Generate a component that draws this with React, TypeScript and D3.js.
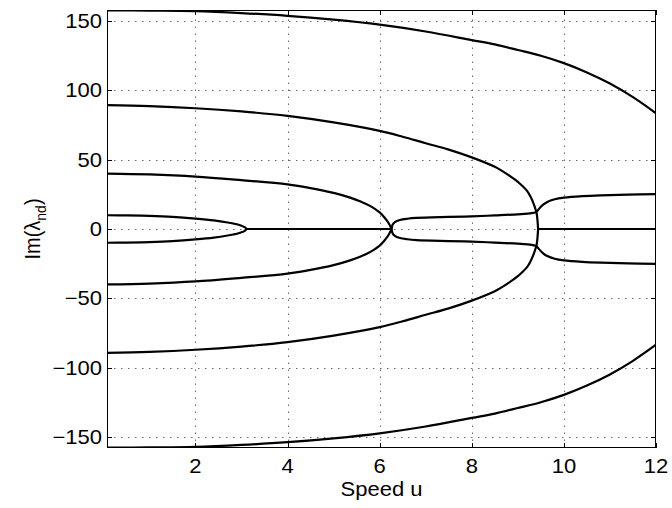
import React, { useEffect, useRef } from "react";
import * as d3 from "d3";

// lecture des courbes sur l'image (branche haute, branche basse)
const mode1Speed = [0.08, 0.5, 1, 1.5, 2, 2.4, 2.7, 2.9, 3.0, 3.07, 3.11];
const mode1Upper = [9.9, 9.8, 9.4, 8.7, 7.5, 6.2, 4.7, 3.4, 2.4, 1.3, 0];
const mode1Lower = [-9.9, -9.8, -9.4, -8.7, -7.5, -6.2, -4.7, -3.4, -2.4, -1.3, 0];

const mode2Speed = [0.08, 1, 2, 3, 4, 4.5, 5, 5.36, 5.6, 5.8, 6.0, 6.1, 6.19, 6.26];
const mode2Upper = [39.9, 39.3, 37.8, 35.2, 32.2, 29.5, 26, 22.6, 19.6, 16.5, 12, 8.5, 4.5, 0];
const mode2Lower = [-39.9, -39.3, -37.8, -35.2, -32.2, -29.5, -26, -22.6, -19.6, -16.5, -12, -8.5, -4.5, 0];

const eyeSpeed = [6.26, 6.28, 6.33, 6.44, 6.6, 6.8, 7.5, 8, 8.5, 9, 9.3, 9.41];
const eyeUpper = [0, 3, 5, 6.5, 7.4, 8, 8.7, 9.1, 9.8, 10.6, 11.4, 12.3];
const eyeLower = [0, -3, -5, -6.5, -7.4, -8, -8.7, -9.1, -9.8, -10.6, -11.4, -12.3];

const mode3Speed = [0.08, 1, 2, 3, 4, 5, 6, 6.5, 7, 7.5, 8, 8.5, 8.62, 8.8, 9, 9.1, 9.2, 9.28, 9.35, 9.39, 9.41, 9.43, 9.44];
const mode3Upper = [89.2, 88.5, 87, 84.7, 81.5, 76.8, 70.7, 66.5, 61.8, 57.2, 51.6, 44.8, 42.6, 38.8, 34, 31, 27.5, 23, 17.5, 13.5, 11, 5, 0];
const mode3Lower = [-89.2, -88.5, -87, -84.7, -81.5, -76.8, -70.7, -66.5, -61.8, -57.2, -51.6, -44.8, -42.6, -38.8, -34, -31, -27.5, -23, -17.5, -13.5, -11, -5, 0];

const outSpeed = [9.41, 9.46, 9.55, 9.64, 9.8, 10, 10.4, 10.8, 11.4, 12];
const outUpper = [12.3, 14.5, 17.5, 19.5, 21.4, 22.6, 23.7, 24.3, 24.8, 25.1];
const outLower = [-12.3, -14.5, -17.5, -19.5, -21.4, -22.6, -23.7, -24.3, -24.8, -25.1];

const mode4Speed = [0.08, 1, 2, 3, 4, 5, 6, 7, 8, 8.5, 9, 9.5, 10, 10.5, 11, 11.5, 12];
const mode4Upper = [157.6, 157.4, 157, 155.6, 153.6, 150.8, 147.2, 142.3, 136.1, 133, 129, 124.8, 119.5, 112.8, 104.8, 95, 83.4];
const mode4Lower = [-157.6, -157.4, -157, -155.6, -153.6, -150.8, -147.2, -142.3, -136.1, -133, -129, -124.8, -119.5, -112.8, -104.8, -95, -83.4];

// segments sur l'axe réel (Im = 0)
const zeroStart = [3.11, 9.44];
const zeroEnd = [6.26, 12];

const xTicks = [2, 4, 6, 8, 10, 12];
const yTicks = [-150, -100, -50, 0, 50, 100, 150];

const App = () => {
    const svgRef = useRef(null);

    useEffect(() => {
        const width = 672, height = 508;
        const margin = { top: 10, right: 16, bottom: 60, left: 107 };
        const font = "'Liberation Sans', Arial, Helvetica, sans-serif";

        const svg = d3.select(svgRef.current);
        svg.selectAll("*").remove();

        const x = d3.scaleLinear()
            .domain([0.08, 12])
            .range([margin.left, width - margin.right]);

        const y = d3.scaleLinear()
            .domain([-157.8, 157.8])
            .range([height - margin.bottom, margin.top]);

        const x0 = margin.left, x1 = width - margin.right;
        const y0 = height - margin.bottom, y1 = margin.top;

        svg.append("defs")
            .append("clipPath")
            .attr("id", "plot-clip")
            .append("rect")
            .attr("x", x0)
            .attr("y", y1)
            .attr("width", x1 - x0)
            .attr("height", y0 - y1);

        // grille pointillée
        const grid = svg.append("g")
            .attr("stroke", "#6a6a6a")
            .attr("stroke-width", 1)
            .attr("stroke-dasharray", "1.5,5.5");

        grid.selectAll("line.gx")
            .data(xTicks.filter(d => d < 12))
            .join("line")
            .attr("x1", d => Math.round(x(d)) + 0.5)
            .attr("x2", d => Math.round(x(d)) + 0.5)
            .attr("y1", y0)
            .attr("y2", y1);

        grid.selectAll("line.gy")
            .data(yTicks)
            .join("line")
            .attr("x1", x0)
            .attr("x2", x1)
            .attr("y1", d => Math.round(y(d)) + 0.5)
            .attr("y2", d => Math.round(y(d)) + 0.5);

        // courbes
        const line = d3.line()
            .x(d => x(d[0]))
            .y(d => y(d[1]))
            .curve(d3.curveCatmullRom.alpha(0.5));

        const branches = [
            [mode1Speed, mode1Upper], [mode1Speed, mode1Lower],
            [mode2Speed, mode2Upper], [mode2Speed, mode2Lower],
            [eyeSpeed, eyeUpper], [eyeSpeed, eyeLower],
            [mode3Speed, mode3Upper], [mode3Speed, mode3Lower],
            [outSpeed, outUpper], [outSpeed, outLower],
            [mode4Speed, mode4Upper], [mode4Speed, mode4Lower]
        ];

        const curves = svg.append("g").attr("clip-path", "url(#plot-clip)");

        branches.forEach(([sx, sy]) => {
            curves.append("path")
                .datum(sx.map((s, i) => [s, sy[i]]))
                .attr("fill", "none")
                .attr("stroke", "black")
                .attr("stroke-width", 2.2)
                .attr("stroke-linejoin", "round")
                .attr("d", line);
        });

        zeroStart.forEach((s, i) => {
            curves.append("line")
                .attr("x1", x(s))
                .attr("x2", x(zeroEnd[i]))
                .attr("y1", y(0))
                .attr("y2", y(0))
                .attr("stroke", "black")
                .attr("stroke-width", 2.2);
        });

        // cadre et graduations (vers l'intérieur, sur les 4 côtés)
        svg.append("rect")
            .attr("x", x0 + 0.5)
            .attr("y", y1 + 0.5)
            .attr("width", x1 - x0 - 1)
            .attr("height", y0 - y1 - 1)
            .attr("fill", "none")
            .attr("stroke", "black")
            .attr("stroke-width", 1);

        const tickLen = 5;
        const ticks = svg.append("g").attr("stroke", "black").attr("stroke-width", 1);

        xTicks.forEach(t => {
            const px = Math.round(x(t)) + 0.5;
            ticks.append("line").attr("x1", px).attr("x2", px).attr("y1", y0).attr("y2", y0 - tickLen);
            ticks.append("line").attr("x1", px).attr("x2", px).attr("y1", y1).attr("y2", y1 + tickLen);
        });

        yTicks.forEach(t => {
            const py = Math.round(y(t)) + 0.5;
            ticks.append("line").attr("x1", x0).attr("x2", x0 + tickLen).attr("y1", py).attr("y2", py);
            ticks.append("line").attr("x1", x1).attr("x2", x1 - tickLen).attr("y1", py).attr("y2", py);
        });

        // étiquettes
        xTicks.forEach(t => {
            svg.append("text")
                .attr("transform", `translate(${x(t)},${y0 + 25}) scale(1.1,1)`)
                .attr("text-anchor", "middle")
                .style("font-family", font)
                .style("font-size", "20px")
                .text(String(t));
        });

        yTicks.forEach(t => {
            svg.append("text")
                .attr("transform", `translate(${x0 - 5},${y(t) + 7}) scale(1.1,1)`)
                .attr("text-anchor", "end")
                .style("font-family", font)
                .style("font-size", "20px")
                .text(t < 0 ? "\u2212" + Math.abs(t) : String(t));
        });

        svg.append("text")
            .attr("transform", `translate(${(x0 + x1) / 2},${height - 12}) scale(1.1,1)`)
            .attr("text-anchor", "middle")
            .style("font-family", font)
            .style("font-size", "20px")
            .text("Speed u");

        const ylab = svg.append("text")
            .attr("transform", `translate(40,${(y0 + y1) / 2}) rotate(-90) scale(1,1.1)`)
            .attr("text-anchor", "middle")
            .style("font-family", font)
            .style("font-size", "20px");
        ylab.append("tspan").text("Im(\u03bb");
        ylab.append("tspan").attr("dy", 5).style("font-size", "14px").text("nd");
        ylab.append("tspan").attr("dy", -5).text(")");
    }, []);

    return (
        <svg ref={svgRef} width="672" height="508"
            style={{ position: "absolute", left: 0, top: 0, background: "white" }}></svg>
    );
};

export default App;
